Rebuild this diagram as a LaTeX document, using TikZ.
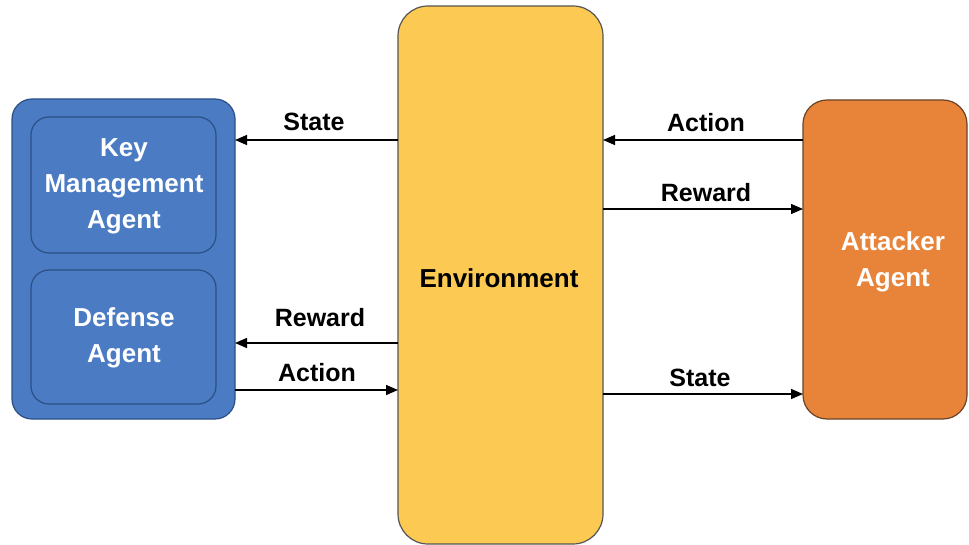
\documentclass[tikz,border=0pt]{standalone}
\usepackage{fontspec}
\setmainfont{Liberation Sans}
\usetikzlibrary{arrows.meta}
\definecolor{agblue}{HTML}{4A7BC3}
\definecolor{agblueb}{HTML}{2C4F86}
\definecolor{envy}{HTML}{FCCA52}
\definecolor{envb}{HTML}{555555}
\definecolor{atko}{HTML}{E8843A}
\definecolor{atkb}{HTML}{6B4426}
\begin{document}
\begin{tikzpicture}[x=1pt,y=-1pt,
  box/.style={draw, line width=1.2pt, rounded corners=#1},
  wtext/.style={text=white, font=\bfseries\fontsize{26}{36}\selectfont, align=center},
  ktext/.style={text=black, font=\bfseries\fontsize{25}{28}\selectfont, inner sep=0pt},
  flow/.style={-{Triangle[length=12pt,width=10pt]}, line width=1.4pt, black}]
\useasboundingbox (0,0) rectangle (969,545);
% boxes
\draw[box=20pt, fill=agblue, draw=agblueb] (12,99) rectangle (235,419);
\draw[box=18pt, fill=agblue, draw=agblueb] (31,117) rectangle (216,253);
\draw[box=18pt, fill=agblue, draw=agblueb] (31,270) rectangle (216,404);
\draw[box=30pt, fill=envy, draw=envb] (398,6) rectangle (603,544);
\draw[box=24pt, fill=atko, draw=atkb] (803,100) rectangle (967,419);
% anchoring x positions
\coordinate (L) at (235,0);
\coordinate (El) at (398,0);
\coordinate (Er) at (603,0);
\coordinate (R) at (803,0);
\node[wtext] (km) at (124,186) {Key\\Management\\Agent};
\node[wtext] (def) at (124,338) {Defense\\Agent};
\node[ktext, font=\bfseries\fontsize{26}{30}\selectfont] (env) at (499,278) {Environment};
\node[wtext] (atk) at (893,262) {Attacker\\Agent};
% arrows
\draw[flow] (El |- 0,140) -- (L |- 0,140);
\node[ktext] (ls) at (314,122) {State};
\draw[flow] (El |- 0,343) -- (L |- 0,343);
\node[ktext] (lr) at (320,318) {Reward};
\draw[flow] (L |- 0,390) -- (El |- 0,390);
\node[ktext] (la) at (317,373) {Action};
\draw[flow] (R |- 0,140) -- (Er |- 0,140);
\node[ktext] (ra) at (706,123) {Action};
\draw[flow] (Er |- 0,209) -- (R |- 0,209);
\node[ktext] (rr) at (706,193) {Reward};
\draw[flow] (Er |- 0,394) -- (R |- 0,394);
\node[ktext] (rs) at (700,378) {State};
\end{tikzpicture}
\end{document}
